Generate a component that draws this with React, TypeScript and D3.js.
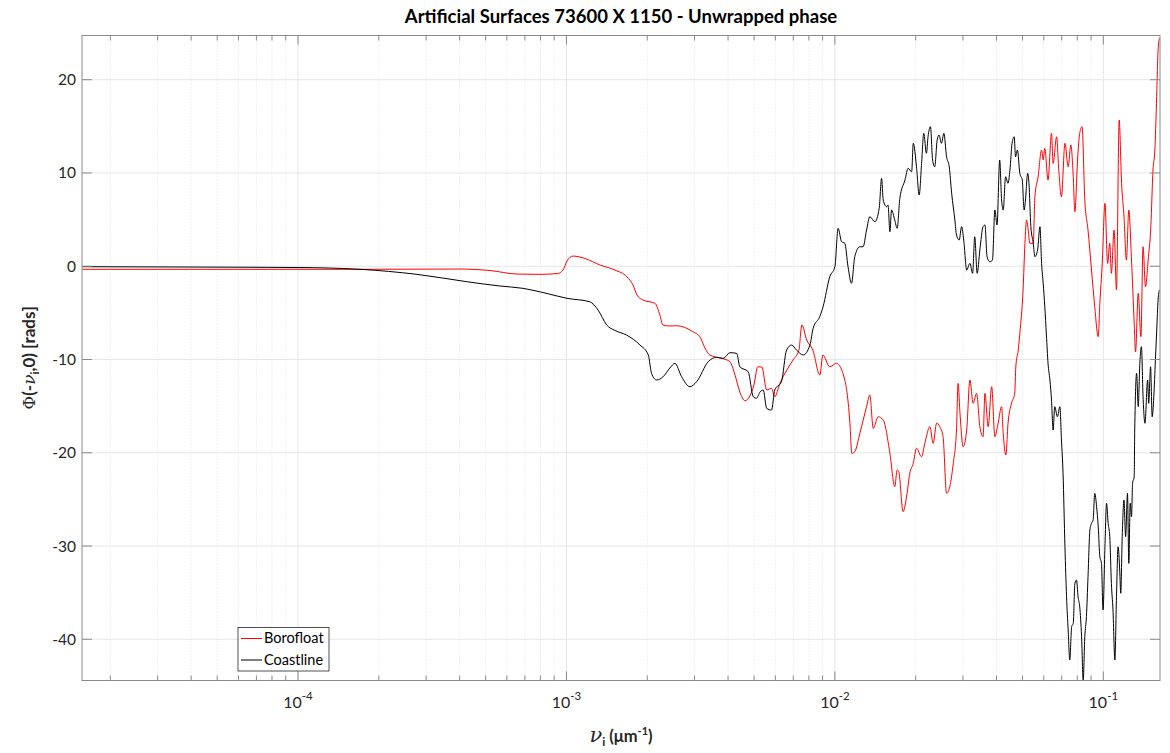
import React from "react";
import * as d3 from "d3";

// Spatial frequency is stored as log10(nu) in um^-1, phase in radians.
const boroLogNu = [
  -4.804, -4.551, -4.179, -3.769, -3.386, -3.285, -3.184, -3.099, -3.032, -3.013,
  -2.998, -2.976, -2.931, -2.875, -2.819, -2.775, -2.752, -2.737, -2.715, -2.670,
  -2.652, -2.641, -2.615, -2.589, -2.529, -2.503, -2.484, -2.466, -2.421, -2.391,
  -2.372, -2.354, -2.335, -2.317, -2.302, -2.287, -2.272, -2.254, -2.236, -2.224,
  -2.205, -2.179, -2.156, -2.134, -2.123, -2.105, -2.082, -2.056, -2.045, -2.019,
  -1.994, -1.963, -1.944, -1.937, -1.926, -1.907, -1.882, -1.870, -1.857, -1.839,
  -1.820, -1.795, -1.777, -1.768, -1.762, -1.746, -1.732, -1.721, -1.708, -1.696,
  -1.677, -1.665, -1.646, -1.634, -1.621, -1.609, -1.597, -1.584, -1.572, -1.559,
  -1.547, -1.541, -1.534, -1.522, -1.509, -1.497, -1.485, -1.472, -1.460, -1.448,
  -1.441, -1.429, -1.416, -1.404, -1.392, -1.379, -1.373, -1.363, -1.355, -1.342,
  -1.330, -1.326, -1.317, -1.311, -1.299, -1.292, -1.286, -1.279, -1.274, -1.261,
  -1.255, -1.243, -1.230, -1.224, -1.218, -1.206, -1.193, -1.187, -1.174, -1.166,
  -1.156, -1.143, -1.131, -1.121, -1.112, -1.106, -1.096, -1.088, -1.079, -1.069,
  -1.057, -1.044, -1.032, -1.019, -1.013, -1.004, -0.994, -0.984, -0.976, -0.970,
  -0.960, -0.951, -0.941, -0.932, -0.923, -0.914, -0.905, -0.895, -0.885, -0.880,
  -0.870, -0.860, -0.852, -0.843, -0.833, -0.823, -0.815, -0.808, -0.802, -0.796,
  -0.791,
];
const boroPhase = [
  -0.33, -0.33, -0.33, -0.33, -0.30, -0.46, -0.84, -0.87, -0.78, -0.41,
  0.56, 1.09, 0.83, 0.13, -0.41, -1.13, -2.02, -3.09, -3.62, -3.98,
  -5.23, -6.30, -6.41, -6.38, -7.02, -7.56, -8.77, -9.52, -9.88, -10.24,
  -11.67, -13.49, -14.42, -13.92, -12.74, -10.78, -10.81, -13.27, -13.09, -13.99,
  -12.56, -11.13, -10.06, -8.99, -6.30, -7.91, -8.99, -11.67, -9.52, -10.78,
  -10.41, -12.20, -16.84, -20.06, -19.89, -17.92, -15.06, -13.81, -17.38, -16.14,
  -16.49, -20.06, -23.64, -21.85, -22.03, -26.32, -24.53, -22.21, -21.13, -19.52,
  -20.43, -18.99, -17.21, -18.99, -16.84, -17.21, -18.28, -24.35, -23.64, -21.13,
  -17.56, -12.56, -15.77, -19.35, -17.56, -12.20, -14.70, -13.63, -17.21, -18.28,
  -13.63, -17.21, -12.92, -18.28, -16.84, -15.06, -17.92, -20.24, -16.84, -14.70,
  -13.63, -10.78, -8.99, -7.19, -2.55, 2.46, 4.95, 3.67, 2.46, 2.46,
  7.45, 9.60, 12.46, 11.39, 12.64, 9.24, 14.25, 11.03, 13.88, 10.31,
  7.45, 13.18, 10.67, 13.00, 9.60, 5.84, 11.39, 14.25, 14.96, 7.10,
  3.88, -0.41, -4.34, -7.56, -3.98, 0.31, 6.74, 0.31, 2.46, -0.76,
  3.88, -2.55, 15.68, 8.89, 5.31, 0.66, 6.03, 0.66, -6.12, -9.20,
  -2.91, -7.56, 2.09, -2.20, 0.66, 4.24, 10.31, 12.46, 17.47, 23.18,
  24.47,
];

const coastLogNu = [
  -4.804, -4.365, -3.993, -3.769, -3.557, -3.371, -3.248, -3.162, -3.080, -2.998,
  -2.913, -2.882, -2.850, -2.819, -2.776, -2.726, -2.695, -2.683, -2.664, -2.640,
  -2.615, -2.596, -2.571, -2.540, -2.515, -2.472, -2.441, -2.416, -2.391, -2.366,
  -2.354, -2.323, -2.304, -2.292, -2.279, -2.267, -2.254, -2.236, -2.224, -2.199,
  -2.180, -2.161, -2.143, -2.118, -2.093, -2.081, -2.056, -2.044, -2.019, -2.000,
  -1.988, -1.975, -1.963, -1.951, -1.938, -1.926, -1.907, -1.895, -1.882, -1.870,
  -1.851, -1.835, -1.826, -1.820, -1.807, -1.802, -1.795, -1.789, -1.777, -1.768,
  -1.758, -1.739, -1.727, -1.714, -1.708, -1.696, -1.686, -1.677, -1.669, -1.659,
  -1.653, -1.644, -1.636, -1.628, -1.619, -1.612, -1.603, -1.594, -1.584, -1.574,
  -1.565, -1.553, -1.547, -1.537, -1.528, -1.520, -1.509, -1.497, -1.487, -1.479,
  -1.470, -1.460, -1.448, -1.441, -1.433, -1.423, -1.413, -1.404, -1.396, -1.386,
  -1.379, -1.373, -1.364, -1.355, -1.348, -1.340, -1.332, -1.327, -1.320, -1.311,
  -1.302, -1.295, -1.290, -1.282, -1.277, -1.270, -1.261, -1.255, -1.245, -1.236,
  -1.230, -1.224, -1.218, -1.212, -1.206, -1.199, -1.193, -1.187, -1.181, -1.171,
  -1.162, -1.156, -1.150, -1.143, -1.137, -1.131, -1.125, -1.118, -1.112, -1.106,
  -1.100, -1.094, -1.088, -1.081, -1.075, -1.069, -1.063, -1.057, -1.050, -1.044,
  -1.038, -1.032, -1.025, -1.019, -1.013, -1.007, -1.001, -0.994, -0.988, -0.982,
  -0.976, -0.970, -0.964, -0.957, -0.951, -0.945, -0.939, -0.935, -0.930, -0.923,
  -0.917, -0.910, -0.905, -0.900, -0.895, -0.891, -0.885, -0.883, -0.876, -0.870,
  -0.864, -0.858, -0.852, -0.845, -0.835, -0.831, -0.824, -0.818, -0.812, -0.806,
  -0.801, -0.796, -0.791,
];
const coastPhase = [
  -0.05, -0.09, -0.14, -0.33, -0.87, -1.66, -2.12, -2.37, -2.87, -3.44,
  -3.81, -4.70, -6.30, -6.89, -7.38, -8.45, -9.52, -11.48, -12.20, -11.85,
  -10.92, -10.41, -11.85, -12.92, -12.38, -10.24, -9.77, -9.88, -9.27, -9.34,
  -10.78, -11.31, -13.99, -14.16, -13.49, -13.27, -15.24, -15.42, -13.27, -12.38,
  -8.99, -8.45, -8.99, -9.52, -8.45, -6.66, -5.38, -4.34, -1.13, -0.05,
  4.06, 2.63, 2.46, -0.05, -1.83, 1.02, 2.09, 2.09, 3.88, 5.31,
  4.77, 6.21, 9.42, 7.10, 6.38, 6.56, 3.70, 6.03, 4.95, 4.06,
  7.28, 9.24, 10.50, 10.13, 13.18, 10.67, 7.63, 11.03, 14.25, 12.11,
  13.88, 14.96, 11.39, 10.67, 13.53, 14.07, 13.18, 14.25, 11.74, 10.67,
  7.82, 4.95, 3.35, 2.81, 4.24, 2.81, -0.41, 0.31, -0.76, 3.16,
  -0.76, 1.74, 4.24, 4.42, 1.02, 0.48, 0.66, 6.03, 4.42, 11.39,
  7.10, 6.03, 9.60, 8.89, 10.31, 13.18, 13.88, 11.74, 12.46, 9.96,
  9.24, 6.03, 7.10, 9.96, 8.89, 4.24, 2.46, 1.02, 1.74, 4.24,
  0.31, -1.83, -4.34, -7.38, -10.41, -12.20, -14.35, -17.56, -15.06, -16.14,
  -15.06, -18.63, -22.21, -30.08, -35.44, -39.01, -42.22, -38.65, -38.29, -34.00,
  -33.65, -35.44, -36.51, -39.73, -44.37, -39.73, -37.58, -33.29, -28.28, -27.57,
  -27.21, -24.35, -25.79, -27.93, -31.15, -31.86, -36.86, -30.08, -25.42, -27.57,
  -29.00, -34.00, -36.86, -42.22, -35.44, -30.08, -32.57, -35.07, -29.36, -25.07,
  -29.00, -24.35, -31.86, -25.42, -26.86, -23.28, -22.57, -17.56, -11.48, -15.06,
  -10.41, -8.63, -13.99, -16.84, -12.20, -14.70, -10.78, -16.14, -13.99, -10.06,
  -6.84, -3.62, -2.55,
];

const seriesNames = ["Borofloat", "Coastline"];
const seriesColors = ["#ff0000", "#000000"];
const yTicks = [-40, -30, -20, -10, 0, 10, 20];
const xDecades = [-4, -3, -2, -1];
const titleText = "Artificial Surfaces 73600 X 1150 - Unwrapped phase";

const FONT = "Lato, 'Open Sans', sans-serif";

type Pt = { nu: number; phi: number };

function toPoints(logNu: number[], phase: number[]): Pt[] {
  const n = Math.min(logNu.length, phase.length);
  const out: Pt[] = [];
  for (let i = 0; i < n; i++) out.push({ nu: Math.pow(10, logNu[i]), phi: phase[i] });
  return out;
}

export default function App() {
  const W = 1170;
  const H = 753;
  const left = 82;
  const right = 1160;
  const top = 35.5;
  const bottom = 680.5;

  const x = d3.scaleLog().domain([1.568e-5, 0.1626]).range([left, right]);
  const y = d3.scaleLinear().domain([-44.42, 24.74]).range([bottom, top]);

  const series = [toPoints(boroLogNu, boroPhase), toPoints(coastLogNu, coastPhase)];
  const line = d3
    .line<Pt>()
    .x((d) => x(d.nu))
    .y((d) => y(d.phi))
    .curve(d3.curveMonotoneX);

  // minor log ticks (2..9 x 10^e) inside the domain
  const [d0, d1] = x.domain();
  const minor: number[] = [];
  for (let e = -5; e <= -1; e++) {
    for (let k = 2; k <= 9; k++) {
      const v = k * Math.pow(10, e);
      if (v > d0 && v < d1) minor.push(v);
    }
  }
  const major = xDecades.map((e) => Math.pow(10, e));

  const axisColor = "#8a8a8a";
  const textColor = "#262626";

  return (
    <svg
      width={W}
      height={H}
      style={{ position: "absolute", left: 0, top: 0, background: "#fff" }}
      fontFamily={FONT}
    >
      <defs>
        <clipPath id="plotClip">
          <rect x={left} y={top} width={right - left} height={bottom - top} />
        </clipPath>
      </defs>
      <rect x={0} y={0} width={W} height={H} fill="#fff" />

      {/* grid */}
      <g>
        {minor.map((v) => (
          <line
            key={"mg" + v}
            x1={x(v)}
            x2={x(v)}
            y1={top}
            y2={bottom}
            stroke="#e4e4e4"
            strokeWidth={1}
            strokeDasharray="1,2"
          />
        ))}
        {major.map((v) => (
          <line key={"Mg" + v} x1={x(v)} x2={x(v)} y1={top} y2={bottom} stroke="#e6e6e6" strokeWidth={1} />
        ))}
        {yTicks.map((t) => (
          <line key={"yg" + t} x1={left} x2={right} y1={y(t)} y2={y(t)} stroke="#e6e6e6" strokeWidth={1} />
        ))}
      </g>

      {/* data */}
      <g clipPath="url(#plotClip)">
        {series.map((s, i) => (
          <path
            key={seriesNames[i]}
            d={line(s) || ""}
            fill="none"
            stroke={seriesColors[i]}
            strokeWidth={1}
            strokeLinejoin="round"
          />
        ))}
      </g>

      {/* axes box */}
      <rect x={left} y={top} width={right - left} height={bottom - top} fill="none" stroke={axisColor} strokeWidth={1} />

      {/* ticks */}
      <g stroke={axisColor} strokeWidth={1}>
        {minor.map((v) => (
          <g key={"mt" + v}>
            <line x1={x(v)} x2={x(v)} y1={bottom} y2={bottom - 5} />
            <line x1={x(v)} x2={x(v)} y1={top} y2={top + 5} />
          </g>
        ))}
        {major.map((v) => (
          <g key={"Mt" + v}>
            <line x1={x(v)} x2={x(v)} y1={bottom} y2={bottom - 9} />
            <line x1={x(v)} x2={x(v)} y1={top} y2={top + 9} />
          </g>
        ))}
        {yTicks.map((t) => (
          <g key={"yt" + t}>
            <line x1={left} x2={left + 10} y1={y(t)} y2={y(t)} />
            <line x1={right} x2={right - 10} y1={y(t)} y2={y(t)} />
          </g>
        ))}
      </g>

      {/* tick labels */}
      <g fill={textColor} fontSize={15.5}>
        {yTicks.map((t) => (
          <text key={"yl" + t} x={left - 6} y={y(t) + 5.5} textAnchor="end">
            {t}
          </text>
        ))}
        {xDecades.map((e) => (
          <text key={"xl" + e} x={x(Math.pow(10, e))} y={708} textAnchor="middle" fontSize={16}>
            <tspan>10</tspan>
            <tspan dy={-8} fontSize={11.5}>
              {String(e)}
            </tspan>
          </text>
        ))}
      </g>

      {/* title */}
      <text
        x={(left + right) / 2}
        y={22.5}
        textAnchor="middle"
        fontSize={18.5}
        fontWeight="bold"
        fill="#000"
      >
        {titleText}
      </text>

      {/* x label */}
      <text x={(left + right) / 2} y={742} textAnchor="middle" fontSize={16.5} fontWeight="bold" fill={textColor}>
        <tspan fontFamily="'DejaVu Serif', serif" fontStyle="italic" fontWeight="normal" fontSize={21}>
          ν
        </tspan>
        <tspan dy={4} fontSize={12}>
          i
        </tspan>
        <tspan dy={-4}> (μm</tspan>
        <tspan dy={-7} fontSize={11}>
          -1
        </tspan>
        <tspan dy={7}>)</tspan>
      </text>

      {/* y label */}
      <text
        transform={`translate(35, ${(top + bottom) / 2}) rotate(-90)`}
        textAnchor="middle"
        fontSize={17}
        fontWeight="bold"
        fill={textColor}
      >
        <tspan fontFamily="'DejaVu Serif', serif" fontWeight="normal">Φ</tspan>
        <tspan>(-</tspan>
        <tspan fontFamily="'DejaVu Serif', serif" fontStyle="italic" fontWeight="normal">ν</tspan>
        <tspan dy={4} fontSize={11.5}>i</tspan>
        <tspan dy={-4}>,0) [rads]</tspan>
      </text>

      {/* legend */}
      <g>
        <rect x={238} y={627.5} width={91} height={43.5} fill="#fff" stroke="#262626" strokeWidth={0.8} />
        {seriesNames.map((name, i) => (
          <g key={"lg" + name}>
            <line
              x1={241}
              x2={262}
              y1={638.5 + i * 21.5}
              y2={638.5 + i * 21.5}
              stroke={seriesColors[i]}
              strokeWidth={1}
            />
            <text x={264} y={643 + i * 21.5} fontSize={14.5} fill="#000">
              {name}
            </text>
          </g>
        ))}
      </g>
    </svg>
  );
}
